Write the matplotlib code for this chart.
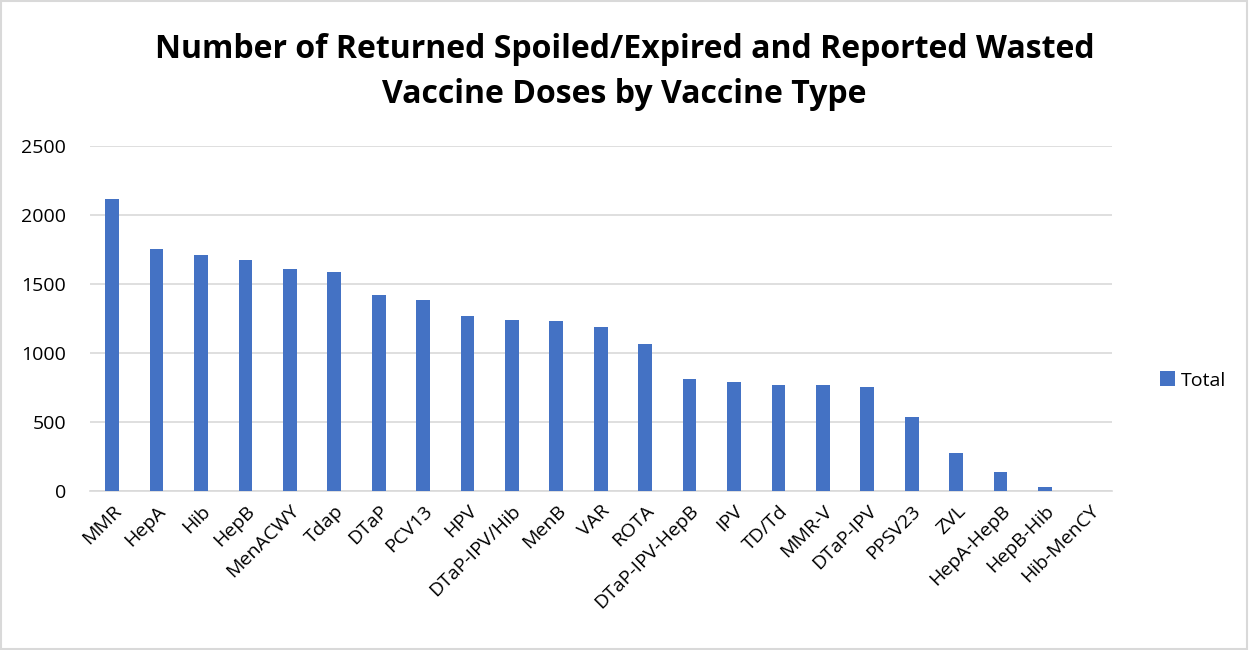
import numpy as np
import matplotlib.pyplot as plt
from matplotlib.patches import Rectangle

# dados
vacinas = ["MMR", "HepA", "Hib", "HepB", "MenACWY", "Tdap", "DTaP", "PCV13", "HPV",
           "DTaP-IPV/Hib", "MenB", "VAR", "ROTA", "DTaP-IPV-HepB", "IPV", "TD/Td",
           "MMR-V", "DTaP-IPV", "PPSV23", "ZVL", "HepA-HepB", "HepB-Hib", "Hib-MenCY"]
totais = [2118, 1756, 1708, 1672, 1606, 1587, 1423, 1382, 1268, 1242, 1230, 1186,
          1068, 814, 788, 768, 766, 756, 534, 275, 133, 27, 1]
y_ticks = [0, 500, 1000, 1500, 2000, 2500]

plt.rcParams['font.family'] = ['Open Sans', 'DejaVu Sans']

fig = plt.figure(figsize=(12.49, 6.5), dpi=100)
ax = fig.add_axes([0.072, 0.245, 0.818, 0.53])

x = np.arange(len(vacinas))
ax.bar(x, totais, width=0.31, color="#4472C4", label="Total", zorder=3)

ax.set_ylim(0, 2500)
ax.set_yticks(y_ticks)
ax.set_xlim(-0.5, len(vacinas) - 0.5)
ax.set_xticks(x)
ax.set_xticklabels(vacinas, rotation=45, ha="right", rotation_mode="anchor", fontsize=14)
ax.tick_params(axis="y", labelsize=14, length=0, pad=17)
ax.tick_params(axis="x", length=0, pad=8)
ax.grid(axis="y", color="#D9D9D9", linewidth=1.2, zorder=0)
for s in ["top", "right", "left"]:
    ax.spines[s].set_visible(False)
ax.spines["bottom"].set_color("#D9D9D9")
ax.spines["bottom"].set_linewidth(1.2)

fig.suptitle("Number of Returned Spoiled/Expired and Reported Wasted\nVaccine Doses by Vaccine Type",
             fontsize=23, fontweight="bold", y=0.95, x=0.5, linespacing=1.5)

ax.legend(loc="center left", bbox_to_anchor=(1.03, 0.32), frameon=False,
          fontsize=14, handlelength=0.8, handleheight=0.8, handletextpad=0.3)

# borda da figura
fig.patches.append(Rectangle((0.001, 0.002), 0.997, 0.996, transform=fig.transFigure,
                             fill=False, edgecolor="#D9D9D9", linewidth=1.5))

fig.savefig("out.png", dpi=100)
